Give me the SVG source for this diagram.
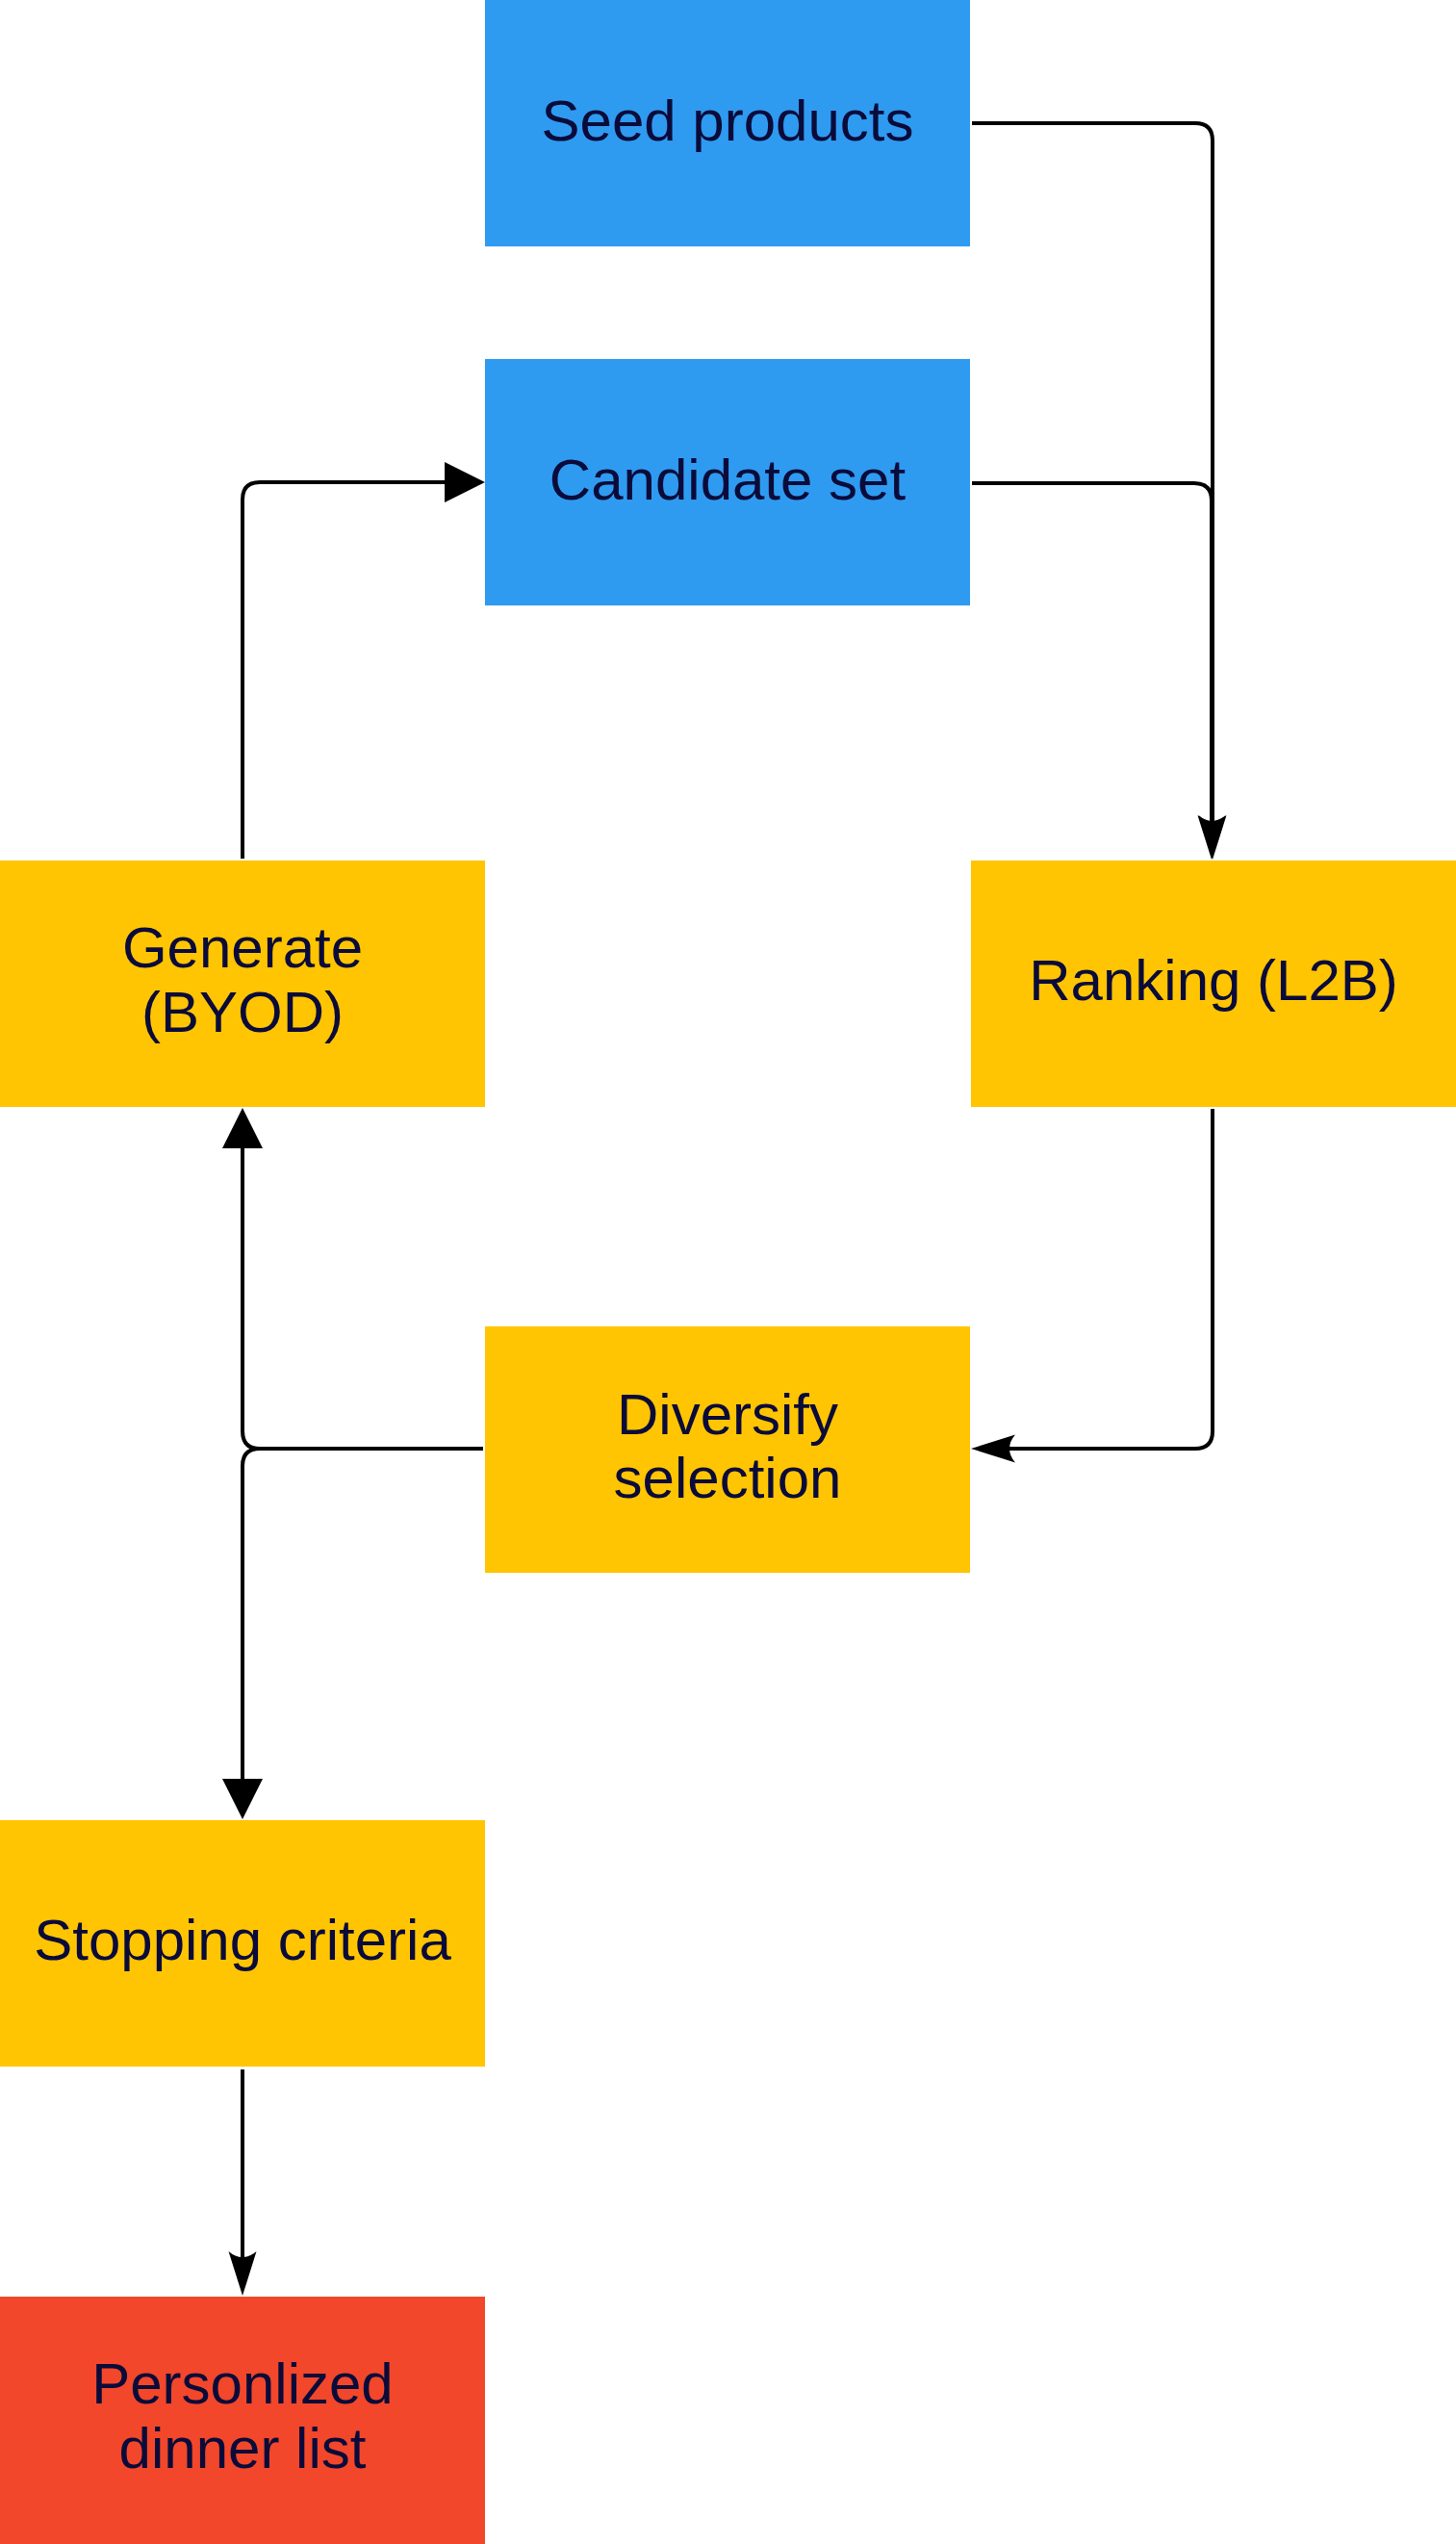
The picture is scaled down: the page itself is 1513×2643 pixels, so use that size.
<svg xmlns="http://www.w3.org/2000/svg" width="1513" height="2643" viewBox="0 0 1513 2643">
<style>
.blue{fill:#2E9BF1}
.yellow{fill:#FFC502}
.red{fill:#F2472A}
.lbl{font-family:"Liberation Sans",Arial,sans-serif;font-size:60px;fill:#0B0B3A;text-anchor:middle}
.edge{fill:none;stroke:#000;stroke-width:4}
</style>
<defs>
<marker id="block" markerUnits="userSpaceOnUse" markerWidth="44" markerHeight="44" refX="0" refY="21" orient="auto" viewBox="0 0 44 44" overflow="visible">
<path d="M0,0 L42,21 L0,42 Z" fill="#000"/>
</marker>
<marker id="classic" markerUnits="userSpaceOnUse" markerWidth="48" markerHeight="30" refX="6" refY="14.5" orient="auto" viewBox="0 0 48 30" overflow="visible">
<path d="M46,14.5 L0,0 Q6,7 6,14.5 Q6,22 0,29 Z" fill="#000"/>
</marker>
</defs>
<rect width="1513" height="2643" fill="#fff"/>
<g id="seed-products">
<rect class="blue" x="504" y="0" width="504" height="256"/>
<text class="lbl" x="756" y="146">Seed products</text>
</g>
<g id="candidate-set">
<rect class="blue" x="504" y="373" width="504" height="256"/>
<text class="lbl" x="756" y="519">Candidate set</text>
</g>
<g id="generate">
<rect class="yellow" x="0" y="894" width="504" height="256"/>
<text class="lbl" x="252" y="1005">Generate</text>
<text class="lbl" x="252" y="1072">(BYOD)</text>
</g>
<g id="ranking">
<rect class="yellow" x="1009" y="894" width="504" height="256"/>
<text class="lbl" x="1261" y="1039">Ranking (L2B)</text>
</g>
<g id="diversify">
<rect class="yellow" x="504" y="1378" width="504" height="256"/>
<text class="lbl" x="756" y="1490">Diversify</text>
<text class="lbl" x="756" y="1556">selection</text>
</g>
<g id="stopping">
<rect class="yellow" x="0" y="1891" width="504" height="256"/>
<text class="lbl" x="252" y="2036">Stopping criteria</text>
</g>
<g id="personlized">
<rect class="red" x="0" y="2386" width="504" height="257"/>
<text class="lbl" x="252" y="2497">Personlized</text>
<text class="lbl" x="252" y="2564">dinner list</text>
</g>
<g id="connectors">
<path class="edge" d="M1010,128 H1242 Q1260,128 1260,146 V853" marker-end="url(#classic)"/>
<path class="edge" d="M1010,502 H1241 Q1259,502 1259,520 V853" marker-end="url(#classic)"/>
<path class="edge" d="M1260,1152 V1487 Q1260,1505 1242,1505 H1049" marker-end="url(#classic)"/>
<path class="edge" d="M502,1505 H270 Q252,1505 252,1487 V1193" marker-end="url(#block)"/>
<path class="edge" d="M502,1505 H270 Q252,1505 252,1523 V1848" marker-end="url(#block)"/>
<path class="edge" d="M252,892 V519 Q252,501 270,501 H462" marker-end="url(#block)"/>
<path class="edge" d="M252,2150 V2345" marker-end="url(#classic)"/>
</g>
</svg>
